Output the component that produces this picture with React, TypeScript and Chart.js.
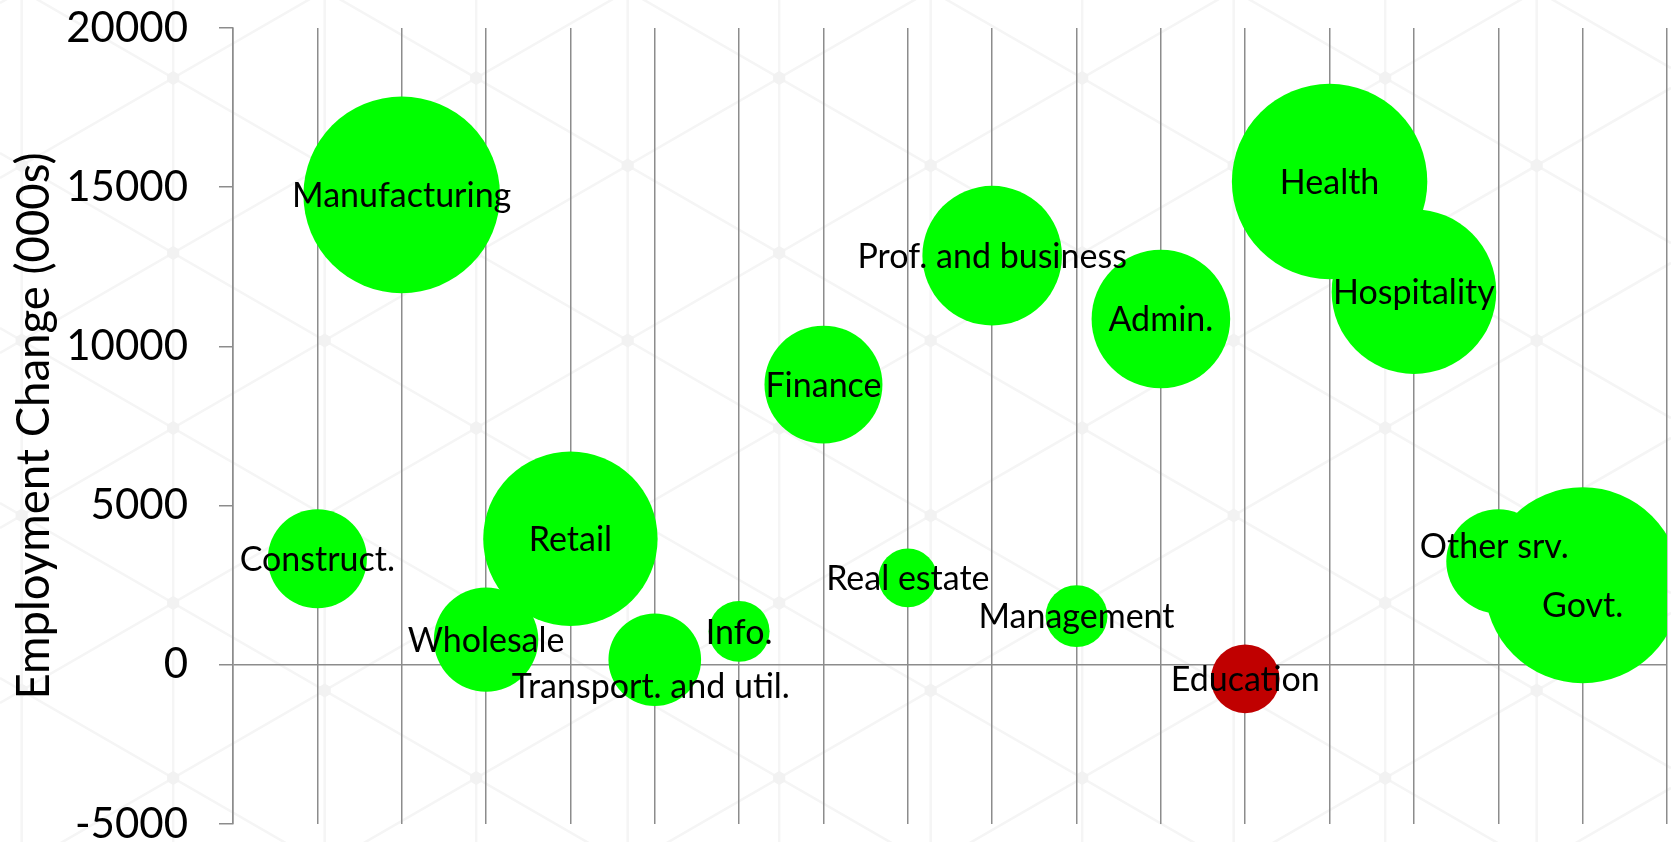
import React, { useEffect, useRef } from "react";
import { Chart, registerables } from "chart.js";

Chart.register(...registerables);

// ---- Data ----
const categories = [
  "Construct.",
  "Manufacturing",
  "Wholesale",
  "Retail",
  "Transport. and util.",
  "Info.",
  "Finance",
  "Real estate",
  "Prof. and business",
  "Management",
  "Admin.",
  "Education",
  "Health",
  "Hospitality",
  "Other srv.",
  "Govt.",
];
const categoryIndex = [1, 2, 3, 4, 5, 6, 7, 8, 9, 10, 11, 12, 13, 14, 15, 16];
const employmentChange = [
  3330, 14760, 790, 3960, 160, 1050, 8800, 2730, 12850, 1530, 10860, -440,
  15180, 11720, 3250, 2500,
];
const bubbleSize = [
  25.4, 100, 28.2, 78.7, 22.2, 9.6, 36.0, 8.9, 50.4, 9.9, 49.7, 12.2, 98.8,
  70.1, 28.0, 99.4,
];
const yTickValues = [-5000, 0, 5000, 10000, 15000, 20000];
const yAxisTitle = "Employment Change (000s)";

// ---- Styles ----
const X_MIN = 0;
const X_MAX = 17;
const MAX_RADIUS = 98.3;
const GREEN = "#00FF00";
const RED = "#C00000";
const GRID = "#8c8c8c";
const FONT = "Lato, 'Open Sans', sans-serif";
const LABEL_SIZE = 34;
const TICK_SIZE = 42;
const TITLE_SIZE = 45.5;
const CAP = 0.7165;
const labelOffsets: Record<string, [number, number]> = {
  "Transport. and util.": [-4, 26],
  "Other srv.": [-4, -16],
  "Govt.": [0, 20],
};

const hexBackground = {
  id: "hexBackground",
  beforeDraw(chart: any) {
    const { ctx, width, height } = chart;
    ctx.save();
    ctx.fillStyle = "#ffffff";
    ctx.fillRect(0, 0, width, height);
    const x0 = 21.7;
    const y0 = 165.5;
    const dx = 151.5;
    const dy = 175;
    const s = 87.5 / 151.5;
    ctx.strokeStyle = "#f5f5f5";
    ctx.lineWidth = 2.5;
    ctx.beginPath();
    for (let n = -1; x0 + n * dx < width + dx; n++) {
      const x = x0 + n * dx;
      ctx.moveTo(x, 0);
      ctx.lineTo(x, height);
    }
    for (let m = -14; m <= 14; m++) {
      const yb = y0 + m * dy;
      ctx.moveTo(0, yb + s * (0 - x0));
      ctx.lineTo(width, yb + s * (width - x0));
      ctx.moveTo(0, yb - s * (0 - x0));
      ctx.lineTo(width, yb - s * (width - x0));
    }
    ctx.stroke();
    ctx.fillStyle = "#f2f2f2";
    for (let n = -1; x0 + n * dx < width + dx; n++) {
      const x = x0 + n * dx;
      const ys = (((y0 + n * 87.5) % dy) + dy) % dy;
      for (let y = ys - dy; y < height + dy; y += dy) {
        ctx.beginPath();
        for (let k = 0; k < 6; k++) {
          const a = (Math.PI / 3) * k + Math.PI / 6;
          const px = x + 7 * Math.cos(a);
          const py = y + 7 * Math.sin(a);
          if (k === 0) ctx.moveTo(px, py);
          else ctx.lineTo(px, py);
        }
        ctx.closePath();
        ctx.fill();
      }
    }
    ctx.restore();
  },
};

const bubbleLabels = {
  id: "bubbleLabels",
  afterDatasetsDraw(chart: any) {
    const ctx = chart.ctx;
    const meta = chart.getDatasetMeta(0);
    ctx.save();
    ctx.font = `${LABEL_SIZE}px ${FONT}`;
    ctx.fillStyle = "#000000";
    ctx.textAlign = "center";
    ctx.textBaseline = "alphabetic";
    meta.data.forEach((el: any, i: number) => {
      const name = categories[i];
      const [ox, oy] = labelOffsets[name] || [0, 0];
      ctx.fillText(name, el.x + ox, el.y + oy + (LABEL_SIZE * CAP) / 2);
    });
    ctx.restore();
  },
};

const axisTitle = {
  id: "axisTitle",
  afterDraw(chart: any) {
    const ctx = chart.ctx;
    const area = chart.chartArea;
    ctx.save();
    ctx.font = `${TITLE_SIZE}px ${FONT}`;
    ctx.fillStyle = "#000000";
    ctx.textAlign = "center";
    ctx.textBaseline = "alphabetic";
    ctx.translate(16 + TITLE_SIZE * CAP, (area.top + area.bottom) / 2);
    ctx.rotate(-Math.PI / 2);
    ctx.fillText(yAxisTitle, 0, 0);
    ctx.restore();
  },
};

export default function App() {
  const canvasRef = useRef<HTMLCanvasElement | null>(null);

  useEffect(() => {
    if (!canvasRef.current) return;
    const maxSize = Math.max(...bubbleSize);
    const chart = new Chart(canvasRef.current, {
      type: "bubble",
      data: {
        datasets: [
          {
            label: "Employment change",
            data: categoryIndex.map((x, i) => ({
              x,
              y: employmentChange[i],
              r: MAX_RADIUS * Math.sqrt(bubbleSize[i] / maxSize),
            })),
            backgroundColor: employmentChange.map((v) => (v < 0 ? RED : GREEN)),
            borderWidth: 0,
            hoverRadius: 0,
            hoverBorderWidth: 0,
            clip: 0,
          } as any,
        ],
      },
      options: {
        responsive: false,
        animation: false,
        events: [],
        layout: {
          autoPadding: false,
          padding: { top: 28, right: 4, bottom: 18, left: 0 },
        },
        plugins: {
          legend: { display: false },
          tooltip: { enabled: false },
        },
        scales: {
          x: {
            type: "linear",
            min: X_MIN,
            max: X_MAX,
            ticks: { display: false, stepSize: 1 },
            grid: { color: GRID, lineWidth: 1.5, drawTicks: false },
            border: { display: false },
            afterFit(s: any) {
              s.height = 0;
              s.paddingLeft = 0;
              s.paddingRight = 0;
            },
          },
          y: {
            type: "linear",
            min: yTickValues[0],
            max: yTickValues[yTickValues.length - 1],
            afterBuildTicks(s: any) {
              s.ticks = yTickValues.map((v) => ({ value: v }));
            },
            ticks: {
              font: { family: FONT, size: TICK_SIZE },
              color: "#000000",
              padding: 31,
              callback: (v: any) => String(v),
            },
            grid: {
              color: (c: any) =>
                c.tick && c.tick.value === 0 ? GRID : "rgba(0,0,0,0)",
              lineWidth: 1.5,
              tickColor: GRID,
              tickLength: 14,
            },
            border: { display: true, color: GRID, width: 1.5 },
            afterFit(s: any) {
              s.width = 233;
              s.paddingTop = 0;
              s.paddingBottom = 0;
            },
          },
        },
      },
      plugins: [hexBackground, bubbleLabels, axisTitle],
    });
    return () => chart.destroy();
  }, []);

  return (
    <div
      style={{
        position: "fixed",
        left: 0,
        top: 0,
        width: 1671,
        height: 842,
        background: "#ffffff",
      }}
    >
      <canvas
        ref={canvasRef}
        width={1671}
        height={842}
        style={{ display: "block" }}
      />
    </div>
  );
}
